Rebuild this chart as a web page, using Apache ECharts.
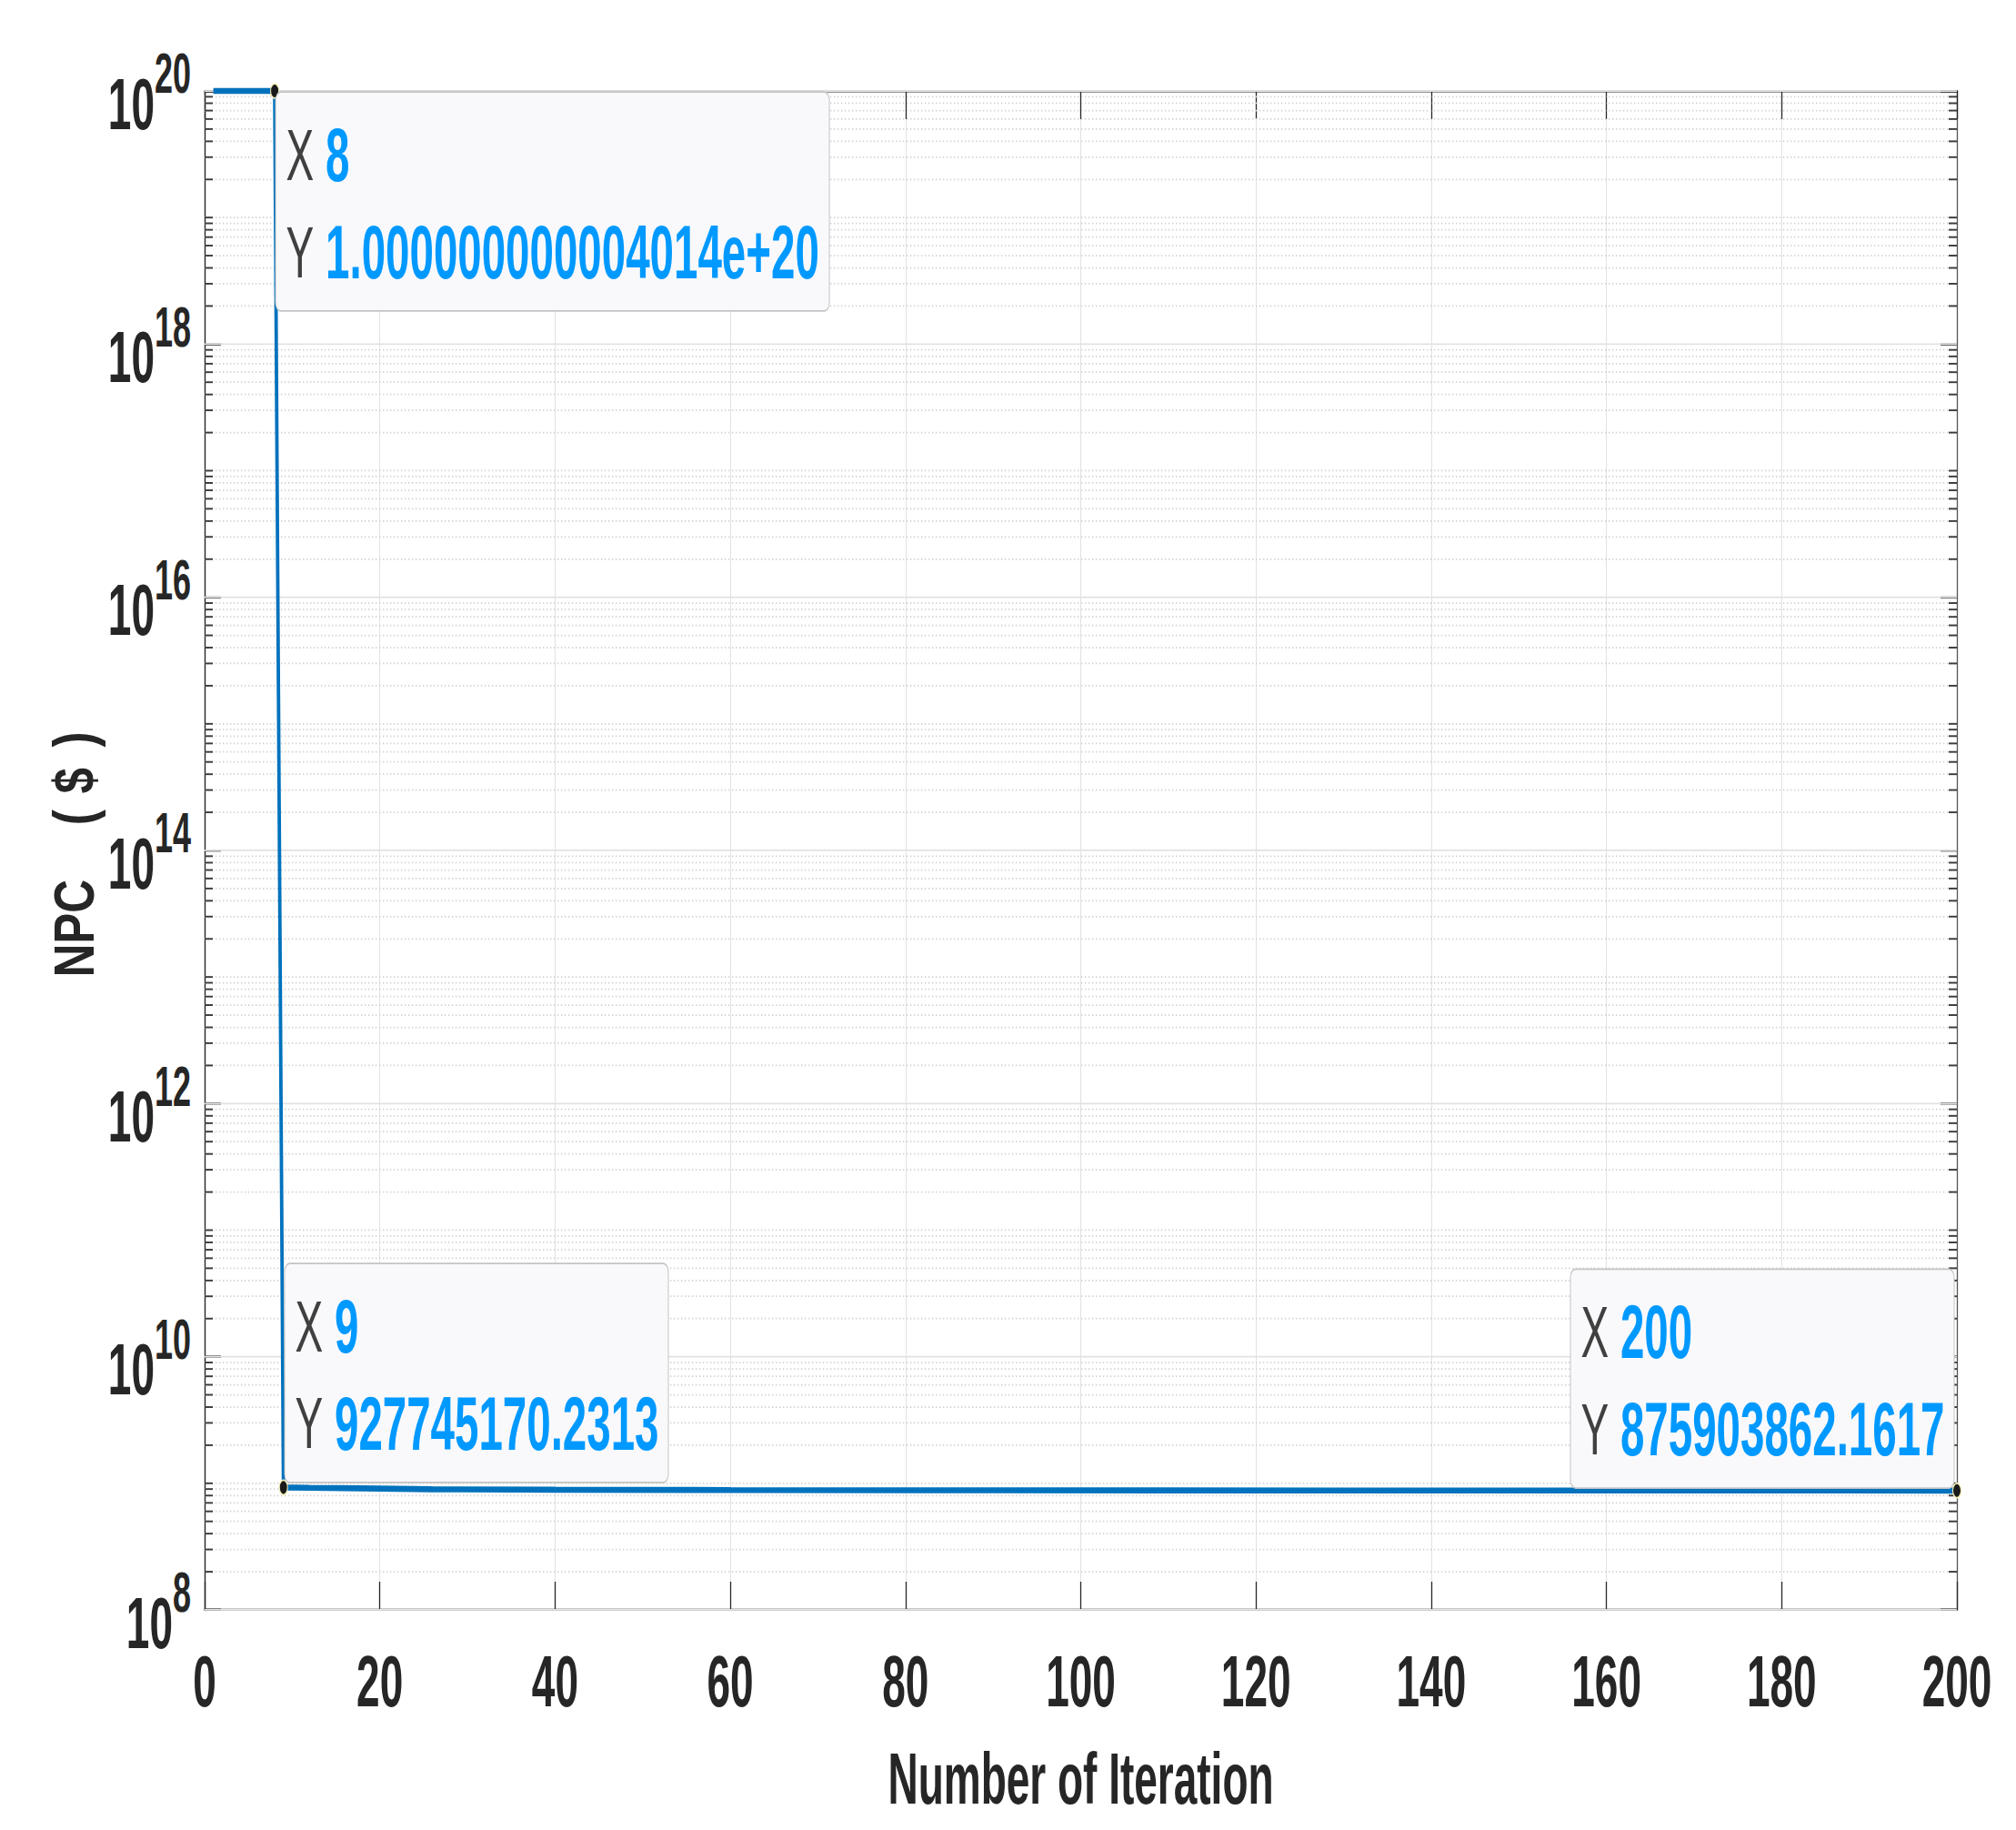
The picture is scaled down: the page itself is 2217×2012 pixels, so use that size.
<!DOCTYPE html>
<html>
<head>
<meta charset="utf-8">
<script src="https://cdn.jsdelivr.net/npm/echarts@6/dist/echarts.min.js"></script>
<style>
html,body{margin:0;padding:0;background:#ffffff;overflow:hidden;}
#wrap{width:2217px;height:2012px;overflow:hidden;position:relative;background:#ffffff;}
#chart{width:2217px;height:1150px;transform:scaleY(1.749565);transform-origin:0 0;}
</style>
</head>
<body>
<div id="wrap"><div id="chart"></div></div>
<script>
// ---------------- data ----------------
const iterations = [1, 8, 9, 12, 18, 26, 40, 60, 90, 130, 170, 200];
const npc = [1.000000000004014e20, 1.000000000004014e20, 927745170.2313, 921000000, 912000000,
             897000000, 889000000, 884000000, 880000000, 877500000, 876400000, 875903862.1617];
const tipIterations = [8, 9, 200];
const xTicks = [0, 20, 40, 60, 80, 100, 120, 140, 160, 180, 200];
const yTickExponents = [8, 10, 12, 14, 16, 18, 20];
const minorMultipliers = [2, 3, 4, 5, 6, 7, 8, 9];
const xName = 'Number of Iteration';
const yName = 'NPC ($)';

// ---------------- helpers ----------------
const FONT = '"Liberation Sans", Arial, Helvetica, sans-serif';
const AXIS = '#262626';
const yMajorValues = yTickExponents.map(e => Math.pow(10, e));
const yMin = yMajorValues[0];
const yMax = yMajorValues[yMajorValues.length - 1];

const gridValues = [];   // [x, value, isMajor]
yMajorValues.forEach(v => gridValues.push([xTicks[0], v, 1]));
for (let e = yTickExponents[0]; e < yTickExponents[yTickExponents.length - 1]; e++) {
  if (!yTickExponents.includes(e)) gridValues.push([xTicks[0], Math.pow(10, e), 0]);
  minorMultipliers.forEach(m => gridValues.push([xTicks[0], m * Math.pow(10, e), 0]));
}

function fmtTip(v) {
  return v >= 1e15 ? v.toExponential(15) : v.toFixed(4);
}

const lineData = iterations.map((x, i) => [x, npc[i]]);

// label placement of each datatip (relative to its marker)
const tipPlacement = {
  8:   { position: [6.5, 6.2],    verticalAlign: 'top',    width: 589 },
  9:   { position: [6.8, 1.4],    verticalAlign: 'bottom', width: 402 },
  200: { position: [-419.5, 2.9], verticalAlign: 'bottom', width: 402 }
};

const tipData = tipIterations.map(t => {
  const y = npc[iterations.indexOf(t)];
  const p = tipPlacement[t];
  return {
    value: [t, y],
    label: {
      show: true,
      position: p.position,
      align: 'left',
      verticalAlign: p.verticalAlign,
      width: p.width,
      formatter: '{k|X} {v|' + t + '}\n{k|Y} {v|' + fmtTip(y) + '}'
    }
  };
});

const chart = echarts.init(document.getElementById('chart'), null, { renderer: 'svg' });

const yAxisCommon = {
  type: 'log',
  logBase: 10,
  min: yMin, max: yMax,
  splitNumber: yTickExponents.length - 1,
  splitLine: { show: false },
  minorTick: { show: false }, minorSplitLine: { show: false }
};

const option = {
  animation: false,
  backgroundColor: '#ffffff',
  grid: {
    left: 225, top: 57.16, width: 1927, height: 954.5,
    containLabel: false, outerBoundsMode: 'none', show: false
  },
  xAxis: [{
    type: 'value',
    position: 'bottom',
    min: xTicks[0], max: xTicks[xTicks.length - 1], interval: xTicks[1] - xTicks[0],
    name: xName,
    nameLocation: 'middle',
    nameGap: 83,
    nameMoveOverlap: false,
    nameTextStyle: { fontFamily: FONT, fontWeight: 'bold', fontSize: 46, lineHeight: 46, color: AXIS },
    axisLine: { show: true, onZero: false, lineStyle: { color: AXIS, width: 1 } },
    axisTick: { show: true, inside: true, length: 17.7, lineStyle: { color: AXIS, width: 1.3 } },
    axisLabel: { show: true, margin: 22, fontFamily: FONT, fontWeight: 'bold', fontSize: 46, lineHeight: 46,
                 color: AXIS, showMinLabel: true, showMaxLabel: true, hideOverlap: false },
    splitLine: { show: true, lineStyle: { color: '#e2e2e2', width: 1 } },
    minorTick: { show: false }, minorSplitLine: { show: false }
  }, {
    type: 'value',
    position: 'top',
    min: xTicks[0], max: xTicks[xTicks.length - 1], interval: xTicks[1] - xTicks[0],
    axisLine: { show: true, onZero: false, lineStyle: { color: AXIS, width: 1 } },
    axisTick: { show: true, inside: true, length: 17.7, lineStyle: { color: AXIS, width: 1.3 } },
    axisLabel: { show: false },
    splitLine: { show: false }
  }],
  yAxis: [Object.assign({}, yAxisCommon, {
    position: 'left',
    axisLine: { show: true, onZero: false, lineStyle: { color: AXIS, width: 1.4 } },
    axisTick: { show: true, inside: true, length: 18, customValues: yMajorValues,
                lineStyle: { color: AXIS, width: 1.3 } },
    axisLabel: {
      show: true, margin: 15, showMinLabel: true, showMaxLabel: true, hideOverlap: false,
      customValues: yMajorValues,
      formatter: v => '{b|10}{s|' + Math.round(Math.log10(v)) + '}',
      rich: {
        b: { fontFamily: FONT, fontWeight: 'bold', fontSize: 46, color: AXIS,
             padding: [21, 0, 5, 0] },
        s: { fontFamily: FONT, fontWeight: 'bold', fontSize: 36, color: AXIS,
             padding: [7, 0, 29, 0] }
      }
    }
  }), Object.assign({}, yAxisCommon, {
    position: 'right',
    axisLine: { show: true, onZero: false, lineStyle: { color: '#555555', width: 1.3 } },
    axisTick: { show: true, inside: true, length: 18, customValues: yMajorValues,
                lineStyle: { color: AXIS, width: 1.3 } },
    axisLabel: { show: false }
  })],
  graphic: [{
    type: 'text',
    x: 81,
    y: 537,
    rotation: Math.PI / 2,
    scaleX: 0.463,
    scaleY: 1,
    silent: true,
    style: {
      text: '{a|NPC} {p|(}{d|$}{q|)}',
      font: 'bold 63px ' + FONT,
      fill: AXIS,
      align: 'center', verticalAlign: 'middle',
      textAlign: 'center', textVerticalAlign: 'middle',
      rich: {
        a: { font: 'bold 63px ' + FONT, fill: AXIS },
        p: { font: 'bold 63px ' + FONT, fill: AXIS, padding: [0, 0, 0, 56] },
        d: { font: 'bold 63px ' + FONT, fill: AXIS, padding: [0, 0, 0, 22] },
        q: { font: 'bold 63px ' + FONT, fill: AXIS, padding: [0, 0, 0, 28] }
      }
    }
  }],
  series: [{
    // log grid: solid major lines, dotted minor lines, minor ticks on both sides
    type: 'custom',
    xAxisIndex: 0, yAxisIndex: 0,
    silent: true,
    z: 1,
    data: gridValues,
    renderItem: function (params, api) {
      const y = api.coord([api.value(0), api.value(1)])[1];
      const major = api.value(2) === 1;
      const cs = params.coordSys;
      const x0 = cs.x, x1 = cs.x + cs.width;
      if (major) {
        return { type: 'line', shape: { x1: x0, y1: y, x2: x1, y2: y },
                 style: { stroke: '#e2e2e2', lineWidth: 1 } };
      }
      return {
        type: 'group',
        children: [
          { type: 'line', shape: { x1: x0, y1: y, x2: x1, y2: y },
            style: { stroke: '#cfcfcf', lineWidth: 1, lineDash: [1.3, 2.7] } },
          { type: 'line', shape: { x1: x0, y1: y, x2: x0 + 9, y2: y },
            style: { stroke: '#3c3c3c', lineWidth: 1.1 } },
          { type: 'line', shape: { x1: x1 - 9, y1: y, x2: x1, y2: y },
            style: { stroke: '#3c3c3c', lineWidth: 1.1 } }
        ]
      };
    }
  }, {
    type: 'line',
    xAxisIndex: 0, yAxisIndex: 0,
    data: lineData,
    showSymbol: false,
    symbol: 'none',
    clip: false,
    silent: true,
    z: 3,
    lineStyle: { color: '#0072bd', width: 3.8 }
  }, {
    type: 'scatter',
    xAxisIndex: 0, yAxisIndex: 0,
    data: tipData,
    symbol: 'circle',
    symbolSize: 9,
    clip: false,
    silent: true,
    z: 5,
    itemStyle: { color: '#1a1a1a', borderColor: '#f3eeb4', borderWidth: 1, opacity: 1 },
    label: {
      show: true,
      fontFamily: FONT,
      fontSize: 46,
      lineHeight: 61,
      color: '#404040',
      backgroundColor: '#f9f9fc',
      borderColor: '#c4c4c4',
      borderWidth: 1,
      borderRadius: 5,
      padding: [8.4, 8, 6.2, 11],
      rich: {
        k: { fontFamily: FONT, fontSize: 46, fontWeight: 'normal', color: '#404040', lineHeight: 61 },
        v: { fontFamily: FONT, fontSize: 47.5, fontWeight: 'bold', color: '#0099ff', lineHeight: 61 }
      }
    },
    labelLayout: { hideOverlap: false, moveOverlap: false }
  }]
};

chart.setOption(option);
</script>
</body>
</html>
